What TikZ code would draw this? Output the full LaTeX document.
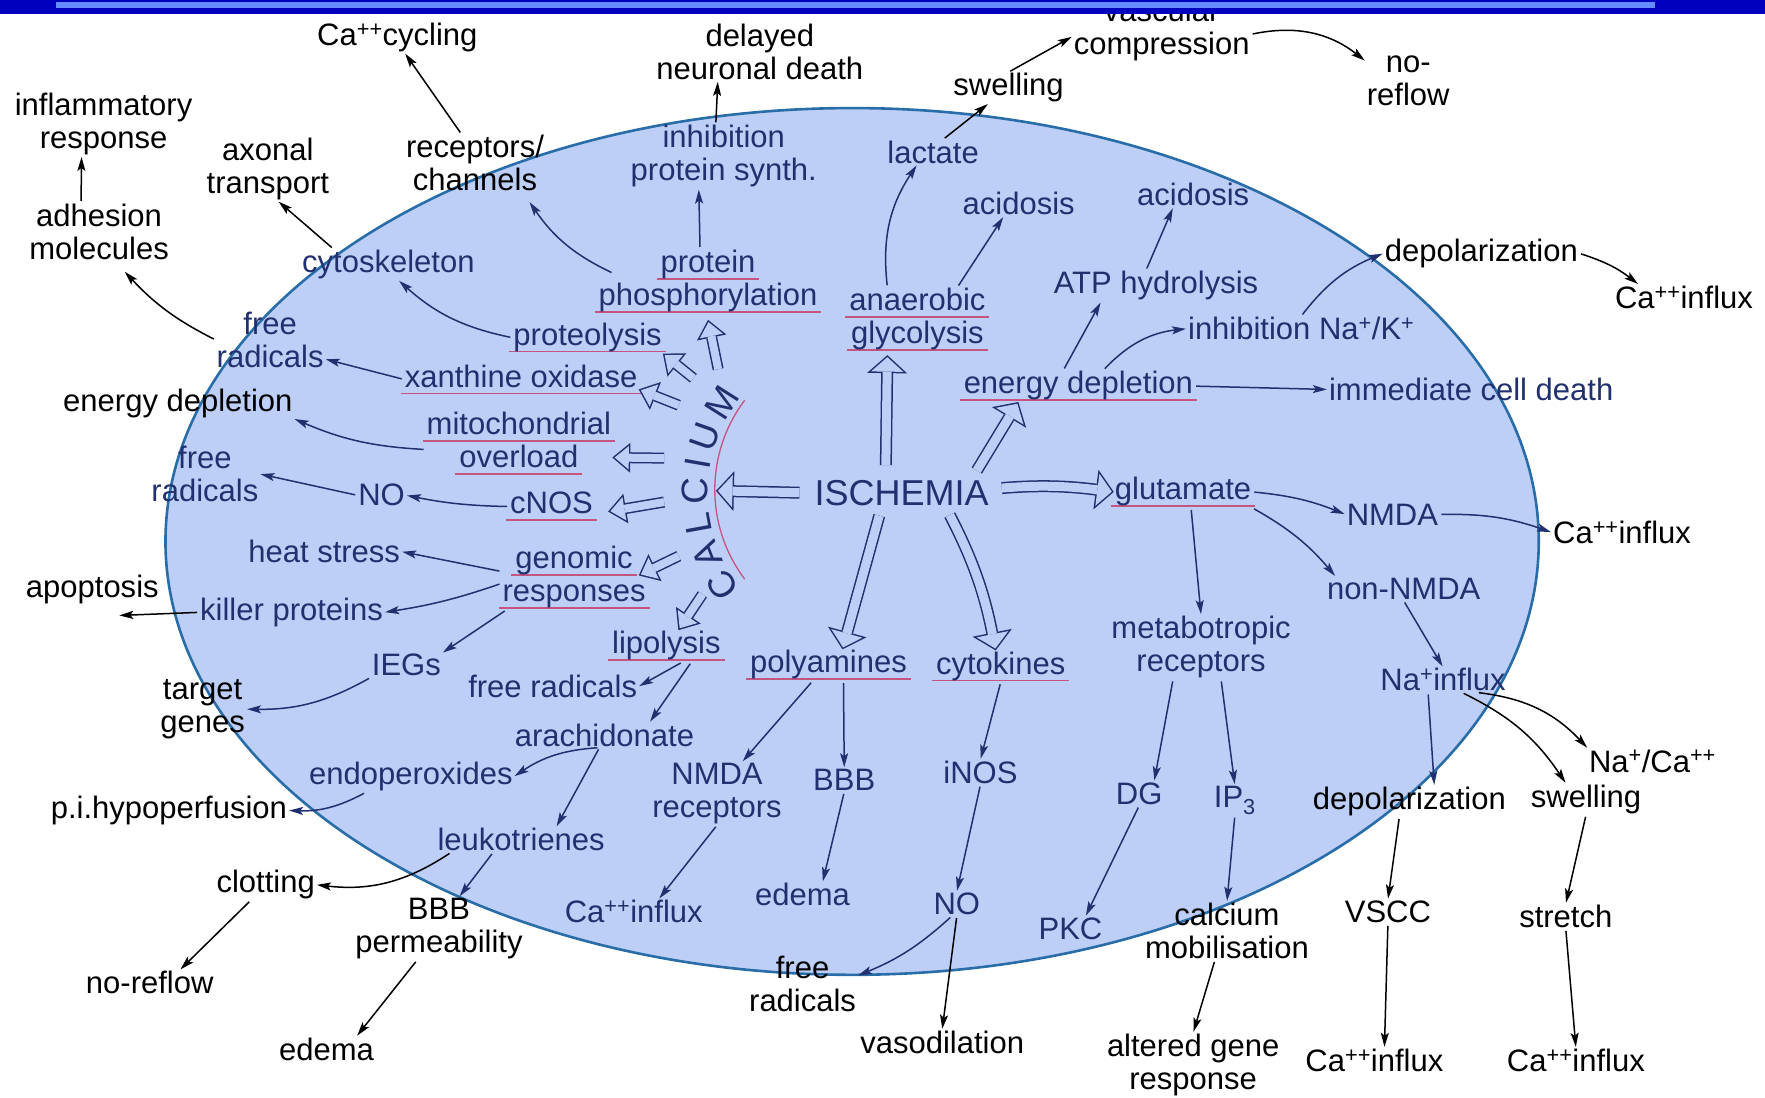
\documentclass[tikz,border=0pt]{standalone}
\usepackage{fontspec}
\setmainfont{Liberation Sans}
\usetikzlibrary{arrows.meta,decorations.text}
\definecolor{navy}{RGB}{33,48,110}
\definecolor{bgc}{RGB}{189,207,246}
\definecolor{rimc}{RGB}{40,108,168}
\definecolor{ulc}{RGB}{196,84,128}
\definecolor{bardark}{RGB}{0,0,190}
\definecolor{barlight}{RGB}{100,140,255}
\newsavebox\ulbox
\newcommand\ulx[1]{\sbox\ulbox{#1}\makebox[0pt][l]{\kern-4pt\textcolor{ulc}{\rule[-7pt]{\dimexpr\wd\ulbox+8pt\relax}{1.5pt}}}\usebox\ulbox}
\newcommand\hollowbig[2][]{\draw[holo,#1] #2; \draw[holi,#1] #2;}
\newcommand\hollowsmall[2][]{\draw[smo,#1] #2; \draw[smi,#1] #2;}
\begin{document}
\begin{tikzpicture}[x=1.1256pt,y=1.1256pt,
  lab/.style={font=\fontsize{31}{33}\selectfont, align=center, inner sep=1pt, text=navy},
  blab/.style={lab, text=black},
  arr/.style={draw=navy, line width=1.5pt, -{Stealth[length=14pt,width=8pt,inset=3pt]}, shorten <=2pt, shorten >=1pt},
  barr/.style={arr, draw=black},
  holo/.style={draw=navy, line width=12pt, -{Triangle[length=18pt,width=40pt,line width=0pt]}},
  holi/.style={draw=bgc, line width=9pt, -{Triangle[length=14.5pt,width=32.2pt,line width=0pt]}, shorten >=2.02pt},
  smo/.style={draw=navy, line width=11pt, -{Triangle[length=18pt,width=30pt,line width=0pt]}},
  smi/.style={draw=bgc, line width=8pt, -{Triangle[length=14.16pt,width=23.6pt,line width=0pt]}, shorten >=2.34pt}
]
\useasboundingbox (0,0) rectangle (1568,-975);
\fill[white] (0,0) rectangle (1568,-975);
\draw[fill=bgc, draw=rimc, line width=2.6pt] (757,-481) ellipse [x radius=610, y radius=385];

% outside labels
\node[blab] (cacyc) at (353,-33) {Ca\textsuperscript{++}cycling};
\node[blab] (delay) at (675,-46) {delayed\\neuronal death};
\node[blab] (vasc) at (1032,-27) {vascular\\compression};
\node[blab] (noref1) at (1251,-72) {no-\\reflow};
\node[blab] (swell1) at (896,-78) {swelling};
\node[blab] (inflam) at (92,-110) {inflammatory\\response};
\node[blab] (adhes) at (88,-206) {adhesion\\molecules};
\node[blab] (axon) at (238,-150) {axonal\\transport};
\node[blab] (recep) at (422,-145) {receptors/\\channels};
\node[blab] (endep1) at (158,-358) {energy depletion};
\node[blab] (apop) at (82,-524) {apoptosis};
\node[blab] (target) at (180,-630) {target\\genes};
\node[blab] (pihyp) at (150,-720) {p.i.hypoperfusion};
\node[blab] (clot) at (236,-786) {clotting};
\node[blab] (noref2) at (133,-873) {no-reflow};
\node[blab] (bbbp) at (390,-825) {BBB\\permeability};
\node[blab] (edema2) at (290,-932) {edema};
\node[blab] (frad5) at (713,-874) {free\\radicals};
\node[blab] (vasod) at (837,-926) {vasodilation};
\node[blab] (calmob) at (1090,-827) {calcium\\mobilisation};
\node[blab] (altgene) at (1060,-946) {altered gene\\response};
\node[blab] (vscc) at (1233,-810) {VSCC};
\node[blab] (stretch) at (1391,-814) {stretch};
\node[blab] (cain3) at (1221,-942) {Ca\textsuperscript{++}influx};
\node[blab] (cain4) at (1400,-942) {Ca\textsuperscript{++}influx};
\node[blab] (depol2) at (1252,-712) {depolarization};
\node[blab] (swell2) at (1409,-710) {swelling};
\node[blab] (naca) at (1468,-676) {Na\textsuperscript{+}/Ca\textsuperscript{++}};
\node[blab] (cain2) at (1441,-473) {Ca\textsuperscript{++}influx};
\node[blab] (depol1) at (1316,-225) {depolarization};
\node[blab] (cain1) at (1496,-264) {Ca\textsuperscript{++}influx};

% inside labels
\node[lab] (inhps) at (643,-139) {inhibition\\protein synth.};
\node[lab] (lact) at (829,-135) {lactate};
\node[lab] (acid1) at (905,-181) {acidosis};
\node[lab] (acid2) at (1060,-173) {acidosis};
\node[lab] (cytosk) at (345,-235) {cytoskeleton};
\node[lab] (protph) at (629,-250) {\ulx{protein}\\\ulx{phosphorylation}};
\node[lab] (anaer) at (815,-284) {\ulx{anaerobic}\\\ulx{glycolysis}};
\node[lab] (atph) at (1027,-254) {ATP hydrolysis};
\node[lab] (inhna) at (1156,-292) {inhibition Na\textsuperscript{+}/K\textsuperscript{+}};
\node[lab] (frad1) at (240,-302) {free\\radicals};
\node[lab] (proteo) at (522,-300) {\ulx{proteolysis}};
\node[lab] (xanth) at (463,-337) {\ulx{xanthine oxidase}};
\node[lab] (endep2) at (958,-343) {\ulx{energy depletion}};
\node[lab] (icd) at (1307,-346) {immediate cell death};
\node[lab] (mito) at (461,-394) {\ulx{mitochondrial}\\\ulx{overload}};
\node[lab] (frad2) at (182,-421) {free\\radicals};
\node[lab] (no1) at (339,-440) {NO};
\node[lab] (cnos) at (490,-450) {\ulx{cNOS}};
\node[lab,font=\fontsize{36}{36}\selectfont] (isch) at (801,-438) {ISCHEMIA};
\node[lab] (glut) at (1051,-437) {\ulx{glutamate}};
\node[lab] (nmda) at (1237,-457) {NMDA};
\node[lab] (heat) at (288,-490) {heat stress};
\node[lab] (genom) at (510,-513) {\ulx{genomic}\\\ulx{responses}};
\node[lab] (killer) at (259,-544) {killer proteins};
\node[lab] (nonnmda) at (1247,-523) {non-NMDA};
\node[lab] (iegs) at (361,-591) {IEGs};
\node[lab] (lipo) at (592,-574) {\ulx{lipolysis}};
\node[lab] (polya) at (736,-591) {\ulx{polyamines}};
\node[lab] (cytok) at (889,-592) {\ulx{cytokines}};
\node[lab] (metab) at (1067,-575) {metabotropic\\receptors};
\node[lab] (frad3) at (491,-610) {free radicals};
\node[lab] (arach) at (537,-653) {arachidonate};
\node[lab] (endop) at (365,-690) {endoperoxides};
\node[lab] (nmdar) at (637,-705) {NMDA\\receptors};
\node[lab] (bbb) at (750,-693) {BBB};
\node[lab] (inos) at (871,-686) {iNOS};
\node[lab] (dg) at (1012,-705) {DG};
\node[lab] (ip3) at (1097,-711) {IP\textsubscript{3}};
\node[lab] (leuko) at (463,-746) {leukotrienes};
\node[lab] (edema1) at (713,-795) {edema};
\node[lab] (cain5) at (563,-810) {Ca\textsuperscript{++}influx};
\node[lab] (no2) at (850,-803) {NO};
\node[lab] (pkc) at (951,-825) {PKC};
\node[lab] (nainf) at (1282,-604) {Na\textsuperscript{+}influx};

% CALCIUM arc text and red arc
\draw[ulc, line width=1.3pt] (767,-435) ++(143:132) arc[start angle=143, end angle=217, radius=132];
\path[decorate, decoration={text along path, text={|\fontsize{37}{37}\selectfont\color{navy}|CALCIUM}, text align=fit to path}]
  (768,-438) ++(218:139) arc[start angle=218, end angle=142, radius=139];

% named free ends
\coordinate (caltip) at (636,-436);
\coordinate (k1) at (638,-328);
\coordinate (k2) at (616,-336);
\coordinate (k3) at (603,-360);
\coordinate (k4) at (590,-407);
\coordinate (k5) at (590,-446);
\coordinate (k6) at (603,-494);
\coordinate (k7) at (624,-528);

% hollow arrows from ISCHEMIA
\hollowbig[shorten <=14pt]{(isch.west) -- (caltip)}
\hollowbig[shorten <=14pt]{([xshift=-16pt]isch.north) -- ([xshift=-30pt,yshift=-3pt]anaer.south)}
\hollowbig[shorten <=10pt]{([xshift=70pt]isch.north) -- ([xshift=-60pt]endep2.south)}
\hollowbig[shorten <=12pt]{([yshift=4pt]isch.east) to[bend left=6] (glut.west)}
\hollowbig[shorten <=9pt]{([xshift=-20pt]isch.south) -- ([xshift=14pt]polya.north)}
\hollowbig[shorten <=9pt]{([xshift=44pt]isch.south) to[bend left=8] ([xshift=-5pt]cytok.north)}

% hollow arrows from CALCIUM
\hollowsmall{(k1) -- ([yshift=-6pt]protph.south)}
\hollowsmall{(k2) -- (proteo.south east)}
\hollowsmall{(k3) -- ([yshift=-10pt]xanth.east)}
\hollowsmall{(k4) -- ([yshift=-14pt]mito.east)}
\hollowsmall{(k5) -- ([xshift=14pt,yshift=-5pt]cnos.east)}
\hollowsmall{(k6) -- ([xshift=-8pt,yshift=2pt]genom.east)}
\hollowsmall{(k7) -- ([xshift=12pt]lipo.north)}

% thin arrows
\draw[barr] (recep.115) -- (cacyc.295);
\draw[barr] ([xshift=-8pt]inhps.north) -- ([xshift=-42pt]delay.south);
\draw[barr] ([xshift=10pt]lact.north) -- ([xshift=-20pt]swell1.south);
\draw[barr] (swell1.north) -- ([yshift=-6pt]vasc.west);
\draw[barr] ([yshift=-4pt]vasc.east) to[bend left=25] (noref1.155);
\draw[arr] (inhna.north) to[bend left=15] (depol1.west);
\draw[barr] (depol1.east) to[bend left=10] ([xshift=25pt]cain1.north west);
\draw[arr] (endep2.east) -- (icd.west);
\draw[arr] ([xshift=25pt]endep2.north) to[bend left=20] (inhna.west);
\draw[arr] ([xshift=-15pt]endep2.north) -- ([xshift=-55pt]atph.south);
\draw[arr] ([xshift=-10pt]atph.north) -- ([xshift=-20pt]acid2.south);
\draw[arr] (glut.east) to[bend left=8] (nmda.west);
\draw[arr] (nmda.east) to[bend left=10] (cain2.west);
\draw[arr] (glut.south east) to[bend left=10] ([xshift=10pt]nonnmda.north west);
\draw[arr] ([xshift=8pt]glut.south) -- (metab.north);
\draw[arr] (nonnmda.south) -- (nainf.north);
\draw[barr] ([xshift=-30pt]nainf.south east) to[bend left=20] (naca.north west);
\draw[barr] ([xshift=-45pt]nainf.south east) to[bend left=15] ([xshift=-20pt]swell2.north);
\draw[arr] ([xshift=-15pt]nainf.south) -- ([xshift=25pt]depol2.north);
\draw[barr] ([xshift=-10pt]depol2.south) -- (vscc.north);
\draw[barr] (swell2.south) -- (stretch.north);
\draw[barr] (vscc.south) -- ([xshift=10pt]cain3.north);
\draw[barr] (stretch.south) -- (cain4.north);
\draw[arr] ([xshift=-28pt]metab.south) -- ([xshift=15pt]dg.north);
\draw[arr] ([xshift=20pt]metab.south) -- (ip3.north);
\draw[arr] (dg.south) -- ([xshift=15pt]pkc.north);
\draw[arr] (ip3.south) -- (calmob.north);
\draw[barr] ([xshift=-12pt]calmob.south) -- (altgene.north);
\draw[arr] (cytok.south) -- (inos.north);
\draw[arr] (inos.south) -- (no2.north);
\draw[arr] ([xshift=-5pt]no2.south) to[bend left=10] ([yshift=8pt]frad5.east);
\draw[barr] (no2.south) -- (vasod.north);
\draw[arr] ([xshift=-16pt]polya.south) -- ([xshift=25pt]nmdar.north);
\draw[arr] ([xshift=15pt]polya.south) -- (bbb.north);
\draw[arr] (bbb.south) -- ([xshift=20pt]edema1.north);
\draw[arr] (nmdar.south) -- ([xshift=25pt]cain5.north);
\draw[arr] ([xshift=16pt]lipo.south) -- (frad3.east);
\draw[arr] ([xshift=25pt]lipo.south) -- ([xshift=45pt]arach.north);
\draw[arr] ([xshift=-5pt]arach.south) to[bend right=15] (endop.east);
\draw[arr] ([xshift=-5pt]arach.south) -- ([xshift=35pt]leuko.north);
\draw[arr] ([xshift=-45pt]endop.south) to[bend left=15] (pihyp.east);
\draw[barr] ([xshift=-70pt]leuko.south) to[bend left=20] (clot.east);
\draw[arr] ([xshift=-28pt]leuko.south) -- ([xshift=20pt]bbbp.north);
\draw[barr] ([xshift=-15pt]clot.south) -- ([xshift=30pt]noref2.north);
\draw[barr] ([xshift=-22pt]bbbp.south) -- ([xshift=30pt]edema2.north);
\draw[arr] ([yshift=6pt]genom.west) -- (heat.east);
\draw[arr] ([yshift=-6pt]genom.west) to[bend left=5] (killer.east);
\draw[arr] ([xshift=5pt]genom.south west) -- (iegs.north east);
\draw[arr] (iegs.south west) to[bend left=15] (target.east);
\draw[barr] (killer.west) -- ([xshift=26pt,yshift=-10pt]apop.south);
\draw[arr] (cnos.west) to[bend left=5] (no1.east);
\draw[arr] (no1.west) -- (frad2.east);
\draw[arr] ([yshift=-6pt]mito.west) to[bend left=10] (endep1.south east);
\draw[arr] (xanth.west) -- ([yshift=10pt]frad1.south east);
\draw[barr] (frad1.west) to[bend left=10] ([xshift=25pt,yshift=-10pt]adhes.south);
\draw[barr] ([xshift=-18pt]adhes.north) -- ([xshift=-22pt]inflam.south);
\draw[barr] ([xshift=-55pt]cytosk.north) -- ([xshift=10pt]axon.south);
\draw[arr] (proteo.west) to[bend left=15] ([xshift=10pt]cytosk.south);
\draw[arr] ([xshift=16pt,yshift=8pt]protph.west) to[bend left=15] ([xshift=54pt,yshift=-9pt]recep.south);
\draw[arr] ([xshift=-8pt]protph.north) -- ([xshift=-25pt]inhps.south);
\draw[arr] ([xshift=-30pt]anaer.north) to[bend left=20] ([xshift=-16pt]lact.south);
\draw[arr] ([xshift=40pt]anaer.north) -- ([xshift=-15pt]acid1.south);

% top bar
\fill[bardark] (0,0) rectangle (1568,-12.4);
\fill[barlight] (50,-1.5) rectangle (1470,-6.8);
\end{tikzpicture}
\end{document}
